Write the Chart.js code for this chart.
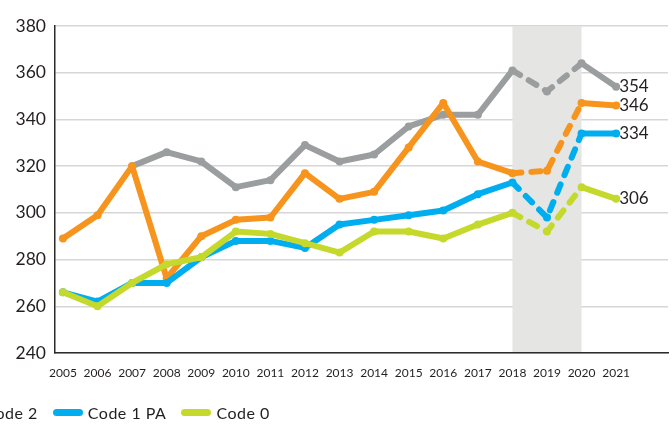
<!DOCTYPE html>
<html>
<head>
  <title>Codes 2005-2021</title>
  <script src="https://cdn.jsdelivr.net/npm/chart.js"></script>
  <style>
    html, body { margin: 0; padding: 0; background: #fff; overflow: hidden; }
    #wrap { position: relative; width: 672px; height: 424px; overflow: hidden; }
    #legend {
      position: absolute; top: 403px; left: -154px;
      display: flex; align-items: center; white-space: nowrap;
      font-family: Lato, sans-serif; font-size: 16px; letter-spacing: 0.5px; color: #231f20;
    }
    #legend .item { display: flex; align-items: center; margin-right: 15px; }
    #legend .sw { width: 30px; height: 7px; border-radius: 4px; margin-right: 5px; }
  </style>
</head>
<body>
  <div id="wrap">
    <canvas id="chart" width="672" height="424"></canvas>
    <div id="legend"></div>
  </div>

  <script>
    const years = [2005, 2006, 2007, 2008, 2009, 2010, 2011, 2012, 2013, 2014, 2015, 2016, 2017, 2018, 2019, 2020, 2021];
    const yTicks = [240, 260, 280, 300, 320, 340, 360, 380];

    const code3 = [null, null, 320, 326, 322, 311, 314, 329, 322, 325, 337, 342, 342, 361, 352, 364, 354];
    const code2 = [289, 299, 320, 272, 290, 297, 298, 317, 306, 309, 328, 347, 322, 317, 318, 347, 346];
    const code1pa = [266, 262, 270, 270, 281, 288, 288, 285, 295, 297, 299, 301, 308, 313, 298, 334, 334];
    const code0 = [266, 260, 270, 278, 281, 292, 291, 287, 283, 292, 292, 289, 295, 300, 292, 311, 306];

    // years estimated (between 2018 and 2020) are dashed and shaded
    const shadeFrom = 2018;
    const shadeTo = 2020;

    const series = [
      { label: 'Code 3', data: code3, color: '#9b9e9e' },
      { label: 'Code 2', data: code2, color: '#f7941d' },
      { label: 'Code 1 PA', data: code1pa, color: '#00aeef' },
      { label: 'Code 0', data: code0, color: '#c5d92d' }
    ];

    const FONT = 'Lato, sans-serif';

    const shadePlugin = {
      id: 'shade',
      beforeDatasetsDraw(chart) {
        const { ctx, chartArea, scales } = chart;
        const x1 = scales.x.getPixelForValue(shadeFrom);
        const x2 = scales.x.getPixelForValue(shadeTo);
        ctx.save();
        ctx.fillStyle = '#e5e6e4';
        ctx.fillRect(x1, chartArea.top, x2 - x1, chartArea.bottom - chartArea.top - 1);
        ctx.restore();
      }
    };

    const endLabels = {
      id: 'endLabels',
      afterDatasetsDraw(chart) {
        const { ctx } = chart;
        ctx.save();
        ctx.font = '17px ' + FONT;
        ctx.fillStyle = '#231f20';
        ctx.textBaseline = 'middle';
        ctx.textAlign = 'left';
        chart.data.datasets.forEach((ds, i) => {
          const meta = chart.getDatasetMeta(i);
          const last = meta.data[meta.data.length - 1];
          const v = ds.data[ds.data.length - 1].y;
          ctx.fillText(String(v), last.x + 3, last.y);
        });
        ctx.restore();
      }
    };

    const chart = new Chart(document.getElementById('chart'), {
      type: 'line',
      data: {
        datasets: series.map((s, i) => ({
          label: s.label,
          data: years.map((yr, j) => ({ x: yr, y: s.data[j] })).filter(p => p.y !== null),
          borderColor: s.color,
          backgroundColor: s.color,
          borderWidth: 6,
          borderCapStyle: 'round',
          borderJoinStyle: 'round',
          pointRadius: 4,
          pointBorderWidth: 0,
          pointHoverRadius: 4,
          tension: 0,
          order: series.length - i,
          segment: {
            borderDash: ctx => (ctx.p0.parsed.x >= shadeFrom && ctx.p1.parsed.x <= shadeTo) ? [9, 10] : undefined
          }
        }))
      },
      options: {
        responsive: false,
        animation: false,
        events: [],
        layout: { padding: { top: 26, right: 2, left: 0, bottom: 0 } },
        plugins: {
          legend: { display: false },
          tooltip: { enabled: false }
        },
        scales: {
          x: {
            type: 'linear',
            min: 2004.77,
            max: 2022.5,
            afterBuildTicks: axis => { axis.ticks = years.map(v => ({ value: v })); },
            afterFit: axis => { axis.height = 71; },
            grid: { display: false, drawTicks: false },
            border: { display: true, color: '#2b2b2b', width: 1.5 },
            ticks: {
              autoSkip: false,
              maxRotation: 0,
              padding: 13,
              color: '#231f20',
              font: { family: FONT, size: 12 },
              callback: v => String(v)
            }
          },
          y: {
            min: 240,
            max: 380,
            afterBuildTicks: axis => { axis.ticks = yTicks.map(v => ({ value: v })); },
            afterFit: axis => { axis.width = 55; },
            grid: { color: '#d6d6d6', lineWidth: 1.5, drawTicks: false },
            border: { display: true, color: '#2b2b2b', width: 1.5 },
            ticks: {
              padding: 9,
              color: '#231f20',
              font: { family: FONT, size: 17.5 }
            }
          }
        }
      },
      plugins: [shadePlugin, endLabels]
    });

    // legend (left part falls outside the picture, like in the original)
    const legend = document.getElementById('legend');
    series.forEach(s => {
      const item = document.createElement('div');
      item.className = 'item';
      item.innerHTML = '<span class="sw" style="background:' + s.color + '"></span><span>' + s.label + '</span>';
      legend.appendChild(item);
    });
  </script>
</body>
</html>
